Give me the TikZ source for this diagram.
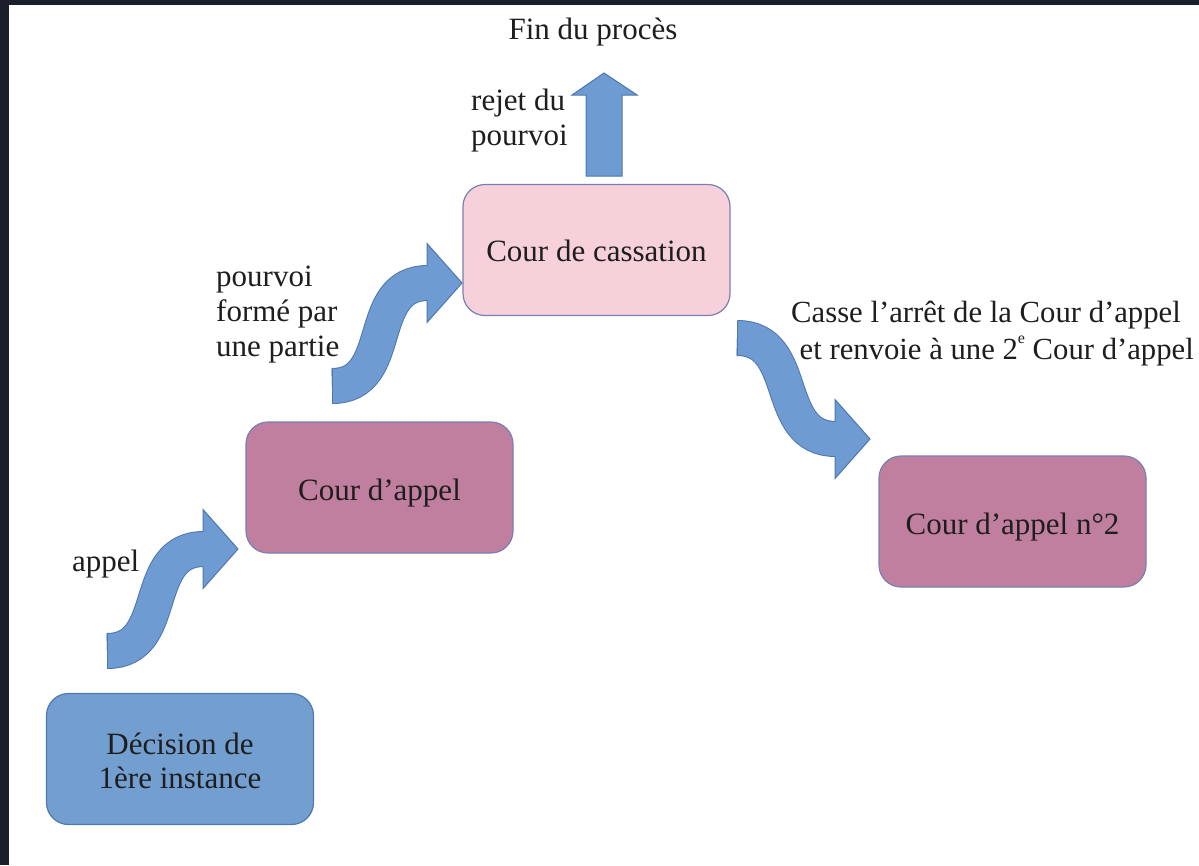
\documentclass[tikz,border=0pt]{standalone}
\usepackage{fontspec}
\setmainfont{Liberation Serif}
\definecolor{framecol}{HTML}{1B1F2B}
\definecolor{bluefill}{HTML}{729FCF}
\definecolor{blueline}{HTML}{4F79B0}
\definecolor{mauvefill}{HTML}{C17F9F}
\definecolor{pinkfill}{HTML}{F6D1D9}
\definecolor{boxline}{HTML}{7880B6}
\definecolor{arrowfill}{HTML}{6D9BD2}
\definecolor{arrowline}{HTML}{4D77AE}
\definecolor{txt}{HTML}{1E1E1E}
\tikzset{
  court/.style={rounded corners=22pt, line width=1.2pt, minimum width=267pt, minimum height=131pt, align=center, text=txt, font=\fontsize{31}{34}\selectfont},
  lbl/.style={inner sep=0pt, text=txt, font=\fontsize{31}{35}\selectfont},
  sband/.style={draw=arrowline, line width=1pt, double=arrowfill, double distance=34pt},
  aline/.style={draw=arrowline, line width=1pt, line join=miter},
}
% tail x, tail y, head base x, head base y
\newcommand\sarrow[4]{%
  \draw[sband] (#1,#2) .. controls +(65,0) and +(-65,0) .. (#3+1,#4);
  \draw[aline] (#1,#2-17.5) -- (#1,#2+17.5);
  \fill[arrowfill] (#3,#4-39.5) -- (#3+35,#4) -- (#3,#4+39.5) -- cycle;
  \draw[aline] (#3,#4-17.5) -- (#3,#4-39.5) -- (#3+35,#4) -- (#3,#4+39.5) -- (#3,#4+17.5);
}
\begin{document}
\begin{tikzpicture}[x=1pt,y=-1pt]
\useasboundingbox (0,0) rectangle (1199,865);
\fill[white] (0,0) rectangle (1199,865);
\fill[framecol] (0,0) rectangle (1199,5);
\fill[framecol] (0,0) rectangle (9,865);

% boxes
\node[court, fill=bluefill, draw=blueline] (dec) at (180,759) {};
\node[court, fill=mauvefill, draw=boxline] (ca1) at (379.5,487.5) {};
\node[court, fill=pinkfill, draw=boxline] (cass) at (596.5,250) {};
\node[court, fill=mauvefill, draw=boxline] (ca2) at (1012.5,521.5) {};
\node[court, draw=none, fill=none] at ([yshift=-2pt]dec.center) {Décision de\\1ère instance};
\node[court, draw=none, fill=none] at ([yshift=-6pt]ca1.center) {Cour d’appel};
\node[court, draw=none, fill=none] at ([yshift=-1pt]cass.center) {Cour de cassation};
\node[court, draw=none, fill=none] at ([yshift=-6pt]ca2.center) {Cour d’appel n°2};

% S-shaped arrows
\sarrow{107}{651}{203}{549}
\sarrow{332}{386}{427}{283}
\sarrow{737}{338}{835}{439}

% upward arrow
\coordinate (up) at (604,73);
\filldraw[fill=arrowfill, aline] (586,176) -- (586,95) -- (572,95) -- (up) -- (637,95) -- (622,95) -- (622,176) -- cycle;

% labels
\node[lbl] (fin) at (593,32) {Fin du procès};
\node[lbl, anchor=west, align=left] (rejet) at (471,121) {rejet du\\pourvoi};
\node[lbl, anchor=west, align=left] (pourvoi) at (216,315) {pourvoi\\formé par\\une partie};
\node[lbl, anchor=west] (appel) at (72,564) {appel};
\node[lbl, anchor=west, font=\fontsize{30.7}{35}\selectfont] (casse1) at (791,315) {Casse l’arrêt de la Cour d’appel};
\node[lbl, anchor=east, font=\fontsize{30.7}{35}\selectfont] (casse2) at (1194,351) {et renvoie à une 2\raisebox{0.5em}{\fontsize{16}{16}\selectfont e} Cour d’appel};
\end{tikzpicture}
\end{document}
